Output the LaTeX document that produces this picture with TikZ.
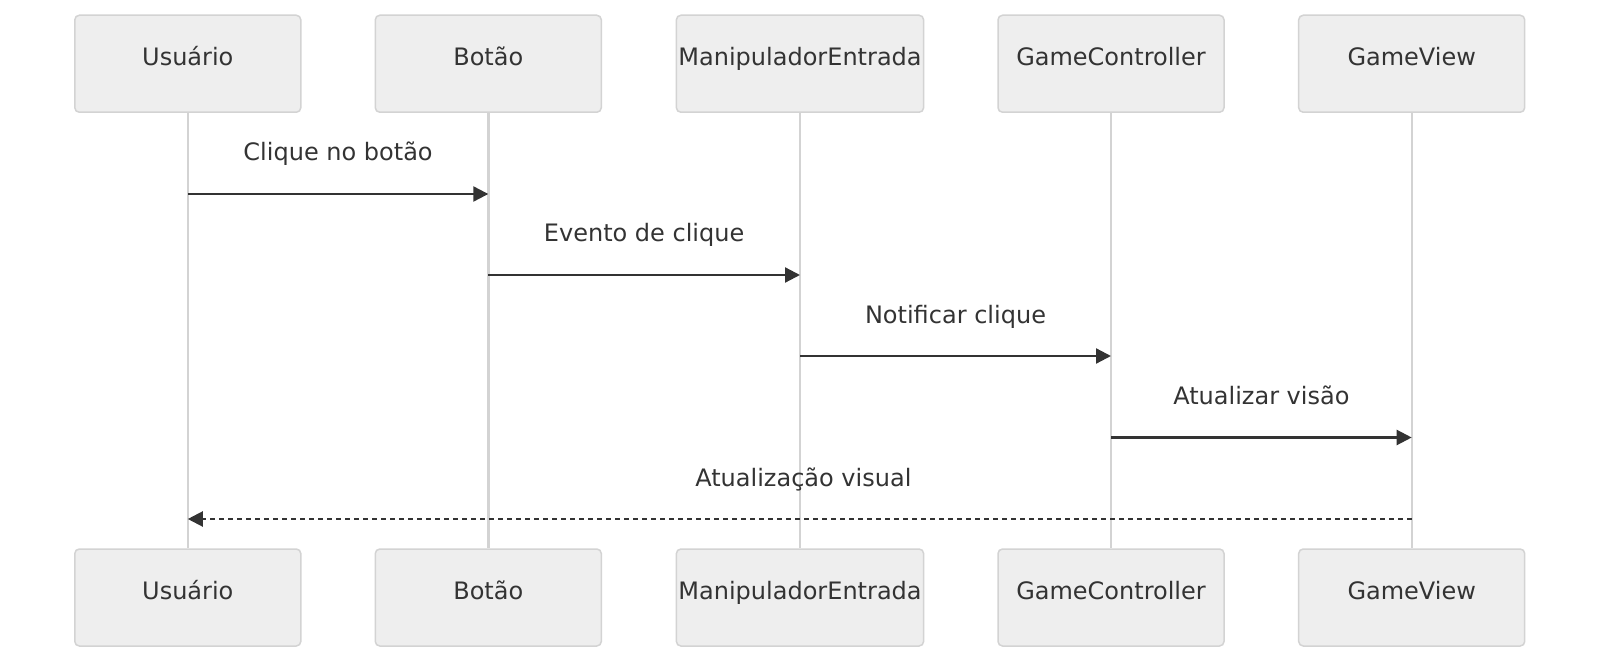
\documentclass[tikz,border=0pt]{standalone}
\usepackage{fontspec}
\setmainfont{DejaVu Sans}
\usetikzlibrary{arrows.meta}

\definecolor{boxfill}{HTML}{EEEEEE}
\definecolor{boxline}{HTML}{D3D3D3}
\definecolor{ink}{HTML}{333333}

\begin{document}
\begin{tikzpicture}[x=0.5pt, y=-0.5pt,
        font=\fontsize{12}{14}\selectfont,
        actor/.style={draw=boxline, fill=boxfill, line width=0.75pt, rounded corners=2.25pt,
            minimum width=113pt, minimum height=48.5pt, inner xsep=1pt,
            text height=10pt, text depth=8pt, text=ink},
        life/.style={draw=boxline, line width=1.2pt},
        msg/.style={draw=ink, line width=1.1pt, -{Triangle[length=7.5pt,width=7.5pt]}},
        reply/.style={msg, dash pattern=on 2.25pt off 2.25pt},
        msglabel/.style={anchor=base, yshift=16.5pt, inner sep=0pt, text=ink}]
        \useasboundingbox (0,0) rectangle (1600,663);

        % actors, top row
        \node[actor] (usrTop)  at (187.8, 63.75) {Usuário};
        \node[actor] (btnTop)  at (488.3, 63.75) {Botão};
        \node[actor] (manTop)  at (800.0, 63.75) {ManipuladorEntrada};
        \node[actor] (ctrlTop) at (1111.0,63.75) {GameController};
        \node[actor] (viewTop) at (1411.7,63.75) {GameView};

        % actors, bottom row
        \node[actor] (usrBot)  at (187.8, 597.5) {Usuário};
        \node[actor] (btnBot)  at (488.3, 597.5) {Botão};
        \node[actor] (manBot)  at (800.0, 597.5) {ManipuladorEntrada};
        \node[actor] (ctrlBot) at (1111.0,597.5) {GameController};
        \node[actor] (viewBot) at (1411.7,597.5) {GameView};

        % lifelines
        \draw[life] (usrTop)  -- (usrBot);
        \draw[life] (btnTop)  -- (btnBot);
        \draw[life] (manTop)  -- (manBot);
        \draw[life] (ctrlTop) -- (ctrlBot);
        \draw[life] (viewTop) -- (viewBot);

        % messages
        \draw[msg] (usrTop |- 0,194) -- node[msglabel] {Clique no botão} (btnTop |- 0,194);
        \draw[msg] (btnTop |- 0,275) -- node[msglabel] {Evento de clique} (manTop |- 0,275);
        \draw[msg] (manTop |- 0,356) -- node[msglabel] {Notificar clique} (ctrlTop |- 0,356);
        \draw[msg] (ctrlTop |- 0,437.5) -- node[msglabel] {Atualizar visão} (viewTop |- 0,437.5);
        \draw[reply] (viewTop |- 0,519) -- node[msglabel, xshift=1.8pt] {Atualização visual} (usrTop |- 0,519);
    \end{tikzpicture}
\end{document}
